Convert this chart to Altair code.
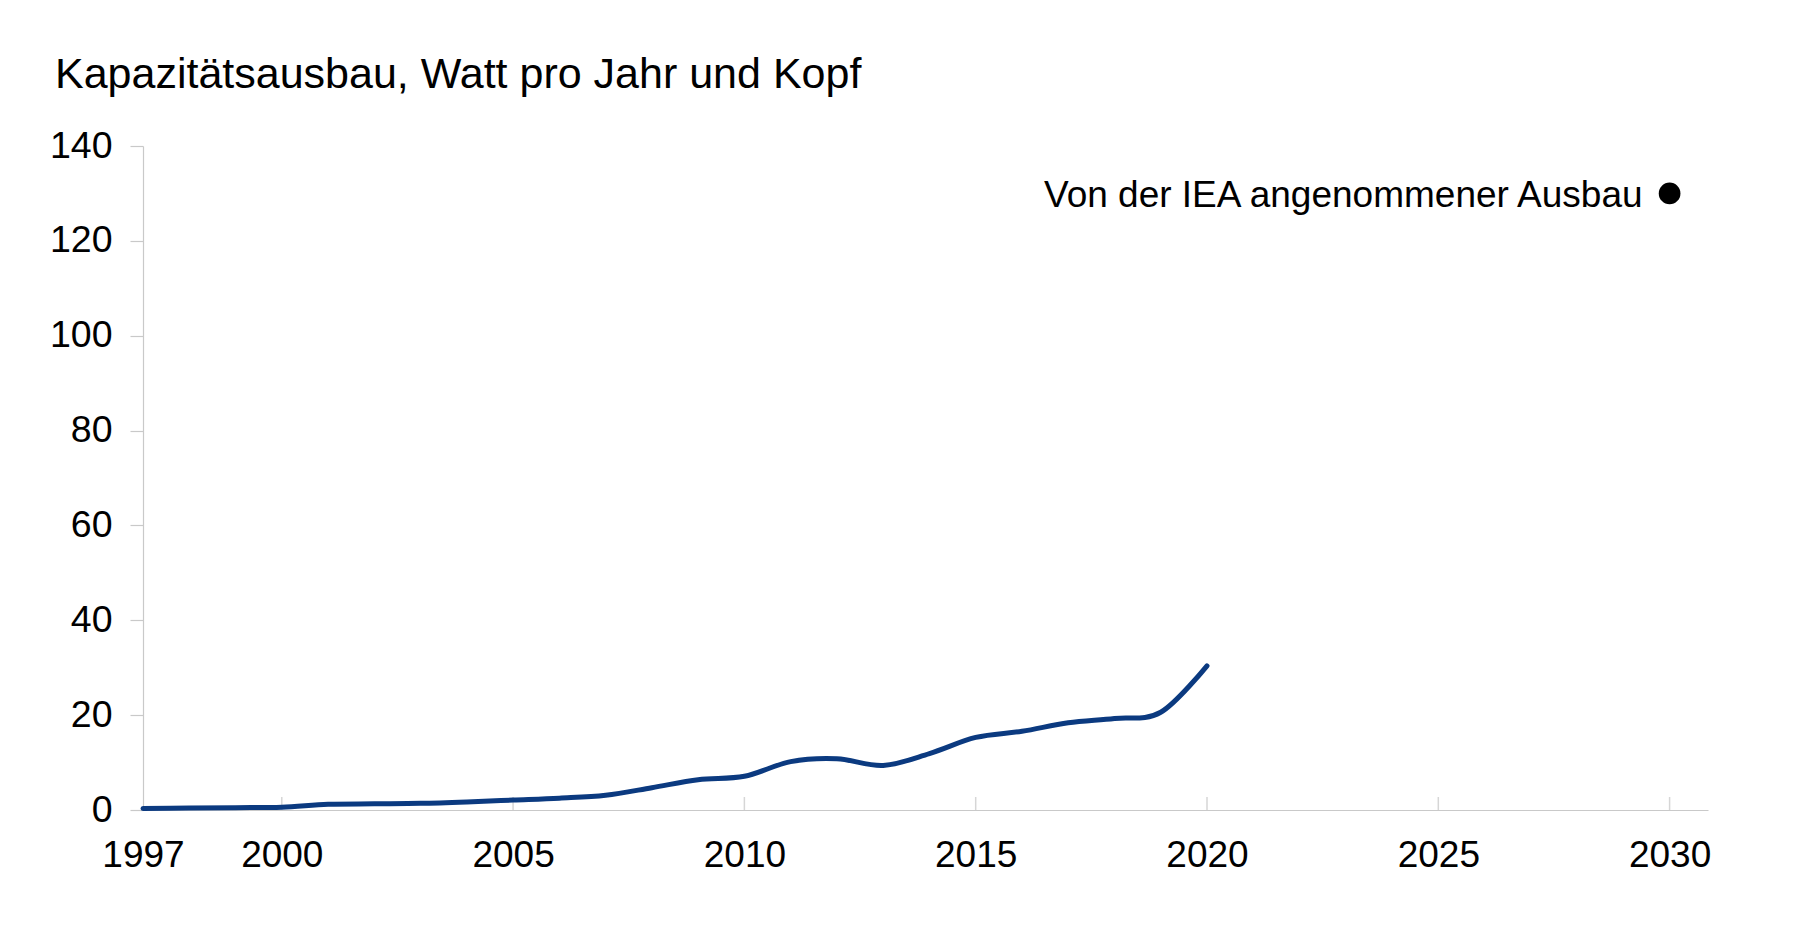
import altair as alt
import pandas as pd

years = list(range(1997, 2021))
values = [0.3, 0.4, 0.5, 0.6, 1.2, 1.3, 1.4, 1.7, 2.1, 2.5, 3.1, 4.7,
          6.4, 7.1, 10.2, 10.8, 9.4, 11.9, 15.3, 16.6, 18.4, 19.3, 20.6, 30.4]

iea_year = [2030]
iea_value = [130]
iea_label = ["Von der IEA angenommener Ausbau"]

x_tick_years = [2000, 2005, 2010, 2015, 2020, 2025, 2030]
x_label_years = [1997, 2000, 2005, 2010, 2015, 2020, 2025, 2030]
y_ticks = [0, 20, 40, 60, 80, 100, 120, 140]

title_text = "Kapazitätsausbau, Watt pro Jahr und Kopf"

FONT = "Liberation Sans"
W, H = 1565, 664
AXIS_GREY = "#c9c9c9"
NAVY = "#0b3a80"

df = pd.DataFrame({"year": years, "value": values})
iea = pd.DataFrame({"year": iea_year, "value": iea_value, "label": iea_label})
ticks_df = pd.DataFrame({"year": x_tick_years})

x_scale = alt.Scale(domain=[1997, 2030.83], nice=False, zero=False)
y_scale = alt.Scale(domain=[0, 140], nice=False)

x_axis = alt.Axis(values=x_label_years, format="d", title=None, grid=False,
                  ticks=False, tickSize=0, labelPadding=27, labelFontSize=37,
                  labelFont=FONT, labelColor="#000000", domainColor=AXIS_GREY,
                  domainWidth=1.2, labelFlush=False, labelOverlap=False)
y_axis = alt.Axis(values=y_ticks, title=None, grid=False, tickSize=13,
                  tickColor=AXIS_GREY, tickWidth=1.2, labelPadding=18,
                  labelFontSize=37.5, labelFont=FONT, labelColor="#000000",
                  domainColor=AXIS_GREY, domainWidth=1.2)

line = alt.Chart(df).mark_line(color=NAVY, strokeWidth=5, interpolate="cardinal",
                               strokeCap="round").encode(
    x=alt.X("year:Q", scale=x_scale, axis=x_axis),
    y=alt.Y("value:Q", scale=y_scale, axis=y_axis),
)

xticks = alt.Chart(ticks_df).mark_rule(color="#d6d6d6", strokeWidth=1.5).encode(
    x=alt.X("year:Q", scale=x_scale),
    y=alt.value(H - 13),
    y2=alt.value(H),
)

dot = alt.Chart(iea).mark_point(filled=True, color="#000000", size=470, opacity=1).encode(
    x=alt.X("year:Q", scale=x_scale),
    y=alt.Y("value:Q", scale=y_scale),
)

label = alt.Chart(iea).mark_text(align="right", baseline="alphabetic", dx=-27, dy=13.5,
                                 font=FONT, fontSize=37, color="#000000").encode(
    x=alt.X("year:Q", scale=x_scale),
    y=alt.Y("value:Q", scale=y_scale),
    text="label:N",
)

chart = alt.layer(xticks, line, dot, label).properties(
    width=W, height=H,
    title=alt.TitleParams(text=title_text, anchor="start", frame="group",
                          fontSize=43, font=FONT, fontWeight="normal",
                          color="#000000", baseline="alphabetic", offset=38,
                          dx=-88, dy=42),
    autosize=alt.AutoSizeParams(type="none"),
    padding={"left": 135, "top": 138, "right": 80, "bottom": 100},
).configure_view(stroke=None)

chart.save("out.html", embed_options={"renderer": "svg", "actions": False})
